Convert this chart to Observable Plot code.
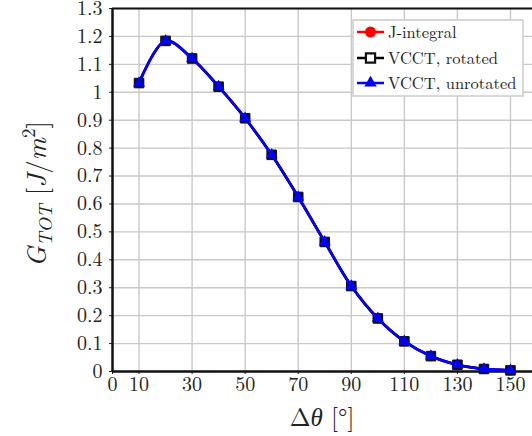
<!DOCTYPE html>
<html>
<head>
<meta charset="utf-8">
<script src="https://cdn.jsdelivr.net/npm/d3@7"></script>
<script src="https://cdn.jsdelivr.net/npm/@observablehq/plot@0.6"></script>
<style>
  html, body { margin: 0; padding: 0; background: #fff; }
  #chart svg { display: block; }
</style>
</head>
<body>
<div id="chart"></div>
<script>
// Data
const theta = [10, 20, 30, 40, 50, 60, 70, 80, 90, 100, 110, 120, 130, 140, 150];
const jIntegral = [1.033, 1.184, 1.121, 1.020, 0.907, 0.776, 0.625, 0.464, 0.306, 0.190, 0.108, 0.055, 0.024, 0.009, 0.004];
const vcctRotated = [1.033, 1.184, 1.121, 1.020, 0.907, 0.776, 0.625, 0.464, 0.306, 0.190, 0.108, 0.055, 0.024, 0.009, 0.004];
const vcctUnrotated = [1.033, 1.184, 1.121, 1.020, 0.907, 0.776, 0.625, 0.464, 0.306, 0.190, 0.108, 0.055, 0.024, 0.009, 0.004];
const seriesNames = ["J-integral", "VCCT, rotated", "VCCT, unrotated"];
const xTicks = [0, 10, 30, 50, 70, 90, 110, 130, 150];
const xGrid = [10, 30, 50, 70, 90, 110, 130, 150];
const yTicks = [0, 0.1, 0.2, 0.3, 0.4, 0.5, 0.6, 0.7, 0.8, 0.9, 1, 1.1, 1.2, 1.3];

const rowsJ = theta.map((t, i) => ({t, v: jIntegral[i]}));
const rowsR = theta.map((t, i) => ({t, v: vcctRotated[i]}));
const rowsU = theta.map((t, i) => ({t, v: vcctUnrotated[i]}));

const FONT = "'Latin Modern Roman', 'Times New Roman', serif";

const svg = Plot.plot({
  width: 532,
  height: 436,
  marginLeft: 112,
  marginRight: 0,
  marginTop: 8,
  marginBottom: 65,
  style: {fontFamily: FONT, fontSize: "20px", color: "#222", background: "#fff", overflow: "visible"},
  x: {domain: [0, 158.3]},
  y: {domain: [0, 1.3]},
  marks: [
    Plot.gridX(xGrid, {stroke: "#c9c9c9", strokeOpacity: 1, strokeWidth: 1.4}),
    Plot.gridY(yTicks, {stroke: "#c9c9c9", strokeOpacity: 1, strokeWidth: 1.4}),
    Plot.axisX(xTicks, {tickSize: 3, tickPadding: 2, label: null, fontSize: 20, tickFormat: d => String(d)}),
    Plot.axisY(yTicks, {tickSize: 3, tickPadding: 7, label: null, fontSize: 20, tickFormat: d => String(+d.toFixed(1))}),
    Plot.ruleY([1.3], {stroke: "#111", strokeWidth: 2}),
    Plot.ruleY([0], {stroke: "#111", strokeWidth: 2.5}),
    Plot.ruleX([0], {stroke: "#111", strokeWidth: 2.5}),
    Plot.line(rowsJ, {x: "t", y: "v", stroke: "red", strokeWidth: 2.5, curve: "catmull-rom"}),
    Plot.dot(rowsJ, {x: "t", y: "v", fill: "red", r: 5}),
    Plot.line(rowsR, {x: "t", y: "v", stroke: "black", strokeWidth: 2.5, curve: "catmull-rom"}),
    Plot.dot(rowsR, {x: "t", y: "v", symbol: "square", fill: "#111", stroke: "#111", strokeWidth: 1, r: 5.4}),
    Plot.line(rowsU, {x: "t", y: "v", stroke: "blue", strokeWidth: 2.8, curve: "catmull-rom"}),
    Plot.dot(rowsU, {x: "t", y: "v", symbol: "triangle", fill: "blue", r: 4.4})
  ]
});

document.getElementById("chart").appendChild(svg);

const s = d3.select(svg);

// Legend
const lg = s.append("g").attr("font-family", FONT).attr("font-size", 16.5).attr("fill", "#222")
  .attr("text-anchor", "start");
lg.append("rect").attr("x", 353).attr("y", 20).attr("width", 170).attr("height", 76)
  .attr("fill", "#fff").attr("stroke", "#cccccc").attr("stroke-width", 1.5);
const rowY = [32, 58, 83];
const colors = ["red", "black", "blue"];
const symbols = [d3.symbolCircle, d3.symbolSquare, d3.symbolTriangle];
seriesNames.forEach((name, i) => {
  const y = rowY[i];
  lg.append("line").attr("x1", 357).attr("x2", 384).attr("y1", y).attr("y2", y)
    .attr("stroke", colors[i]).attr("stroke-width", 2.5);
  const sym = lg.append("path").attr("transform", `translate(370.5,${y})`);
  if (i === 0) sym.attr("d", d3.symbol(symbols[0], Math.PI * 5.5 * 5.5)()).attr("fill", "red");
  if (i === 1) sym.attr("d", d3.symbol(symbols[1], 84)()).attr("fill", "#fff").attr("stroke", "#111").attr("stroke-width", 2.2);
  if (i === 2) sym.attr("d", d3.symbol(symbols[2], Math.PI * 4.6 * 4.6)()).attr("fill", "blue");
  lg.append("text").attr("x", 388).attr("y", y + 5.5).attr("text-anchor", "start").text(name);
});

// Y axis label: G_TOT [J/m^2]
const yl = s.append("text")
  .attr("transform", "translate(46,194) rotate(-90)")
  .attr("text-anchor", "middle")
  .attr("font-family", FONT).attr("font-size", 27).attr("fill", "#222");
yl.append("tspan").attr("font-style", "italic").text("G");
yl.append("tspan").attr("font-style", "italic").attr("font-size", 19).attr("dy", 6).text("TOT");
yl.append("tspan").attr("dy", -6).text(" [");
yl.append("tspan").attr("font-style", "italic").text("J");
yl.append("tspan").text("/");
yl.append("tspan").attr("font-style", "italic").text("m");
yl.append("tspan").attr("font-size", 19).attr("dy", -11).text("2");
yl.append("tspan").attr("dy", 11).text("]");

// X axis label: Δθ [°]
const xl = s.append("text")
  .attr("x", 322).attr("y", 426)
  .attr("text-anchor", "middle")
  .attr("font-family", FONT).attr("font-size", 25).attr("fill", "#222");
xl.append("tspan").text("Δ");
xl.append("tspan").attr("font-style", "italic").text("θ");
xl.append("tspan").text(" [°]");
</script>
</body>
</html>
